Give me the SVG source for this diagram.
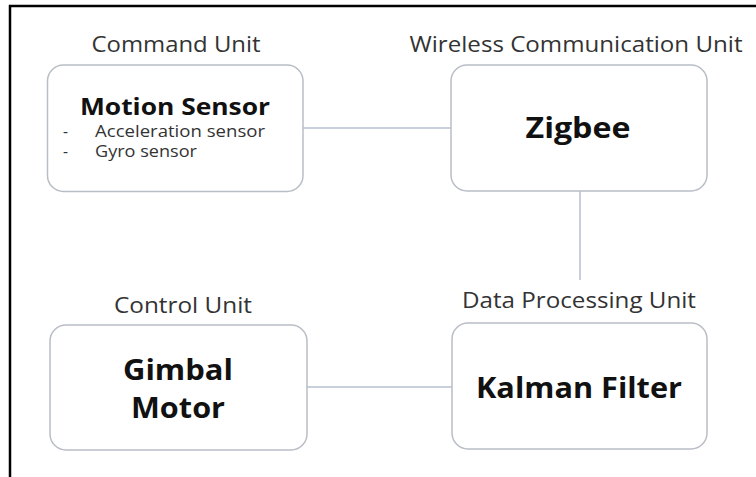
<svg xmlns="http://www.w3.org/2000/svg" width="756" height="477" viewBox="0 0 756 477">
<style>
.box{fill:#ffffff;stroke:#b9bdc5;stroke-width:1.5}
.conn{stroke:#b4c0d0;stroke-width:1.5;fill:none}
.lbl{font-family:"Open Sans","Noto Sans","Liberation Sans",sans-serif;font-size:21px;fill:#333333}
.big{font-family:"Open Sans","Noto Sans","Liberation Sans",sans-serif;font-size:29px;font-weight:bold;fill:#111111}
.med{font-family:"Open Sans","Noto Sans","Liberation Sans",sans-serif;font-size:24px;font-weight:bold;fill:#111111}
.sm{font-family:"Open Sans","Noto Sans","Liberation Sans",sans-serif;font-size:15.5px;fill:#333333}
</style>
<rect x="0" y="0" width="756" height="477" fill="#ffffff"/>
<path d="M10 477 V6 H756" fill="none" stroke="#000000" stroke-width="2.5"/>
<g id="connectors">
<line class="conn" x1="303" y1="128" x2="451" y2="128"/>
<line class="conn" x1="580" y1="191" x2="580" y2="280"/>
<line class="conn" x1="307" y1="387" x2="452" y2="387"/>
</g>
<g id="command-unit">
<text class="lbl" x="176" y="52" text-anchor="middle" textLength="169" lengthAdjust="spacingAndGlyphs">Command Unit</text>
<rect class="box" x="47.5" y="65" width="255.5" height="126.5" rx="16"/>
<text class="med" x="175" y="115" text-anchor="middle" textLength="190" lengthAdjust="spacingAndGlyphs">Motion Sensor</text>
<text class="sm" x="63" y="137">-</text>
<text class="sm" x="95" y="137" textLength="170" lengthAdjust="spacingAndGlyphs">Acceleration sensor</text>
<text class="sm" x="63" y="157">-</text>
<text class="sm" x="95" y="157" textLength="102" lengthAdjust="spacingAndGlyphs">Gyro sensor</text>
</g>
<g id="wireless-unit">
<text class="lbl" x="576" y="52" text-anchor="middle" textLength="333" lengthAdjust="spacingAndGlyphs">Wireless Communication Unit</text>
<rect class="box" x="451" y="65" width="256" height="126" rx="16"/>
<text class="big" x="578" y="138" text-anchor="middle" textLength="105" lengthAdjust="spacingAndGlyphs">Zigbee</text>
</g>
<g id="control-unit">
<text class="lbl" x="183" y="313" text-anchor="middle" textLength="138" lengthAdjust="spacingAndGlyphs">Control Unit</text>
<rect class="box" x="50" y="325" width="257" height="125" rx="16"/>
<text class="big" x="178" y="380" text-anchor="middle" textLength="110" lengthAdjust="spacingAndGlyphs">Gimbal</text>
<text class="big" x="178" y="418" text-anchor="middle" textLength="94" lengthAdjust="spacingAndGlyphs">Motor</text>
</g>
<g id="data-processing-unit">
<text class="lbl" x="579" y="308" text-anchor="middle" textLength="234" lengthAdjust="spacingAndGlyphs">Data Processing Unit</text>
<rect class="box" x="452" y="323" width="255" height="126" rx="16"/>
<text class="big" x="579" y="398" text-anchor="middle" textLength="206" lengthAdjust="spacingAndGlyphs">Kalman Filter</text>
</g>
</svg>
